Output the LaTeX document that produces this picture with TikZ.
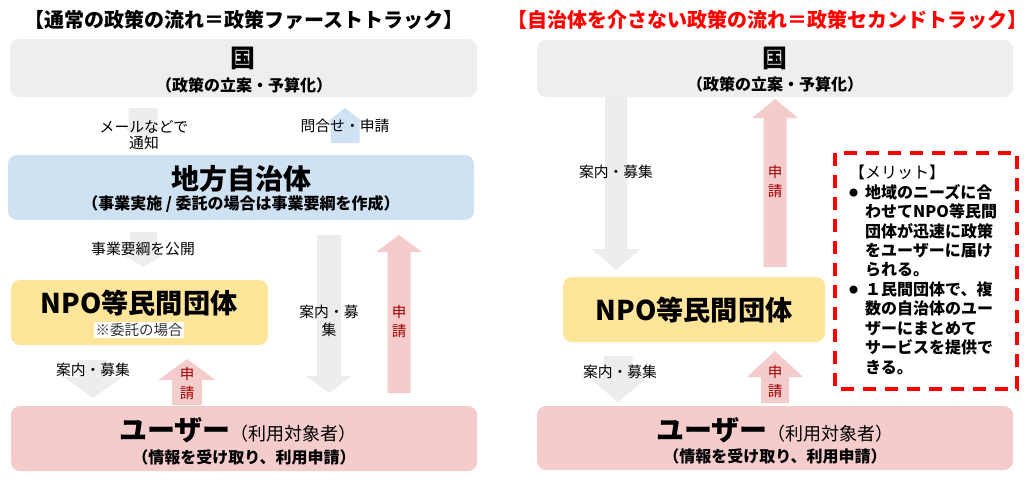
\documentclass[tikz,border=0pt]{standalone}
\usepackage{fontspec}
\setmainfont{Noto Sans CJK JP}
\definecolor{boxgray}{HTML}{EEEEEE}
\definecolor{arrgray}{HTML}{EDEDED}
\definecolor{boxblue}{HTML}{CFE2F3}
\definecolor{boxyellow}{HTML}{FFE599}
\definecolor{boxpink}{HTML}{F4CCCC}
\definecolor{darkred}{HTML}{A00000}
\definecolor{brightred}{HTML}{FF0000}
\newcommand\blkdown[7]{\fill[#1] ({#2-#5},#3) -- ({#2+#5},#3) -- ({#2+#5},{#4-#7}) -- ({#2+#6},{#4-#7}) -- (#2,#4) -- ({#2-#6},{#4-#7}) -- ({#2-#5},{#4-#7}) -- cycle;}
\newcommand\blkup[7]{\fill[#1] ({#2-#5},#3) -- ({#2+#5},#3) -- ({#2+#5},{#4+#7}) -- ({#2+#6},{#4+#7}) -- (#2,#4) -- ({#2-#6},{#4+#7}) -- ({#2-#5},{#4+#7}) -- cycle;}
\newcommand\fs[2]{\fontsize{#1}{#2}\selectfont}
\newcommand\mbul{\makebox[16pt][l]{\raisebox{1.5pt}{\fs{9}{9}●}}}
\begin{document}
\begin{tikzpicture}[x=1pt,y=-1pt,
  panel/.style={rounded corners=9pt},
  titletxt/.style={font=\fs{20}{24}\bfseries, inner sep=0},
  lbl/.style={font=\fs{14.8}{16.5}, inner sep=0, align=center},
  redlbl/.style={font=\fs{14.5}{19}, text=darkred, inner sep=0, align=center},
  bigtxt/.style={font=\fs{27.2}{30}\bfseries, inner sep=0},
  subtxt/.style={font=\fs{16}{19}\bfseries, inner sep=0},
]
\useasboundingbox (0,0) rectangle (1027,479);

% ---------- LEFT ----------
\node[titletxt] (ltitle) at (244,20) {【通常の政策の流れ＝政策ファーストトラック】};

\fill[boxgray, panel] (10,39) rectangle (477,97);
\fill[boxblue, panel] (8,155) rectangle (474,220);
\fill[boxyellow, panel] (11,280) rectangle (268,345);
\fill[boxpink, panel] (11,406) rectangle (477,471);

\blkdown{arrgray}{143}{108}{139}{14.5}{20}{12}
\blkup{boxblue}{345}{143}{108}{14.5}{18}{14}
\blkdown{arrgray}{143.5}{232}{267}{13.5}{20}{12}
\blkdown{arrgray}{93}{360}{398}{14.5}{29.5}{21}
\blkup{boxpink}{187}{405}{359}{15}{28.5}{21}
\blkdown{arrgray}{329}{235}{393}{12}{23}{17}
\blkup{boxpink}{399}{393}{235}{11.5}{23}{17}

\node[font=\fs{25}{28}\bfseries, inner sep=0] (lkuni) at (243,58) {国};
\node[subtxt] (lkunisub) at (244,85) {（政策の立案・予算化）};
\node[lbl] (lmail) at (144,135) {メールなどで\\通知};
\node[lbl] (ltoiawase) at (345,126) {問合せ・申請};
\node[font=\fs{28}{32}\bfseries, inner sep=0] (ljichi) at (241,179) {地方自治体};
\node[subtxt] (ljichisub) at (241,204) {（事業実施 / 委託の場合は事業要綱を作成）};
\node[lbl] (lyoko) at (143,249) {事業要綱を公開};
\node[bigtxt] (lnpo) at (139,303) {NPO等民間団体};
\node[font=\fs{14.5}{16}, text=black!80, fill=white, inner xsep=1.5pt, inner ysep=1.5pt] (litaku) at (139,330) {※委託の場合};
\node[lbl] (lannai1) at (93,370) {案内・募集};
\node[redlbl] (lshinsei1) at (187,383) {申\\請};
\node[lbl, font=\fs{14.8}{18}] (lannai2) at (329,321) {案内・募\\集};
\node[redlbl] (lshinsei2) at (399,321) {申\\請};
\node[inner sep=0] (luser) at (238,430) {\fs{28}{32}\bfseries ユーザー\fs{18}{20}\mdseries （利用対象者）};
\node[subtxt] (lusersub) at (244,457) {（情報を受け取り、利用申請）};

% ---------- RIGHT ----------
\node[titletxt, text=brightred] (rtitle) at (767,20) {【自治体を介さない政策の流れ＝政策セカンドトラック】};

\fill[boxgray, panel] (537,40) rectangle (1013,97);
\fill[boxyellow, panel] (563,277) rectangle (825,342);
\fill[boxpink, panel] (537,406) rectangle (1013,470);

\blkdown{arrgray}{616}{97}{270}{11}{24}{21}
\blkup{boxpink}{775}{267}{99}{11.5}{23}{19}
\blkdown{arrgray}{618}{356}{402}{14.5}{29}{24}
\blkup{boxpink}{775}{403}{351}{14}{28}{26}

\node[font=\fs{25}{28}\bfseries, inner sep=0] (rkuni) at (775,58) {国};
\node[subtxt] (rkunisub) at (775,84) {（政策の立案・予算化）};
\node[lbl] (rannai1) at (616,172) {案内・募集};
\node[redlbl] (rshinsei1) at (775,181) {申\\請};
\node[bigtxt] (rnpo) at (694,310) {NPO等民間団体};
\node[lbl] (rannai2) at (620,372) {案内・募集};
\node[redlbl] (rshinsei2) at (775,381) {申\\請};
\node[inner sep=0] (ruser) at (775,430) {\fs{28}{32}\bfseries ユーザー\fs{18}{20}\mdseries （利用対象者）};
\node[subtxt] (rusersub) at (775,456) {（情報を受け取り、利用申請）};

% merit box
\draw[brightred, line width=3.5pt, dash pattern=on 13pt off 9pt] (835,153) rectangle (1017,389);
\node[anchor=north west, inner sep=0, align=left, font=\fs{16}{19.45}] (merit) at (849,165)
{【メリット】\\
\mbul\textbf{地域のニーズに合}\\
\hspace*{16pt}\textbf{わせてNPO等民間}\\
\hspace*{16pt}\textbf{団体が迅速に政策}\\
\hspace*{16pt}\textbf{をユーザーに届け}\\
\hspace*{16pt}\textbf{られる。}\\
\mbul\textbf{１民間団体で、複}\\
\hspace*{16pt}\textbf{数の自治体のユー}\\
\hspace*{16pt}\textbf{ザーにまとめて}\\
\hspace*{16pt}\textbf{サービスを提供で}\\
\hspace*{16pt}\textbf{きる。}};
\end{tikzpicture}
\end{document}
